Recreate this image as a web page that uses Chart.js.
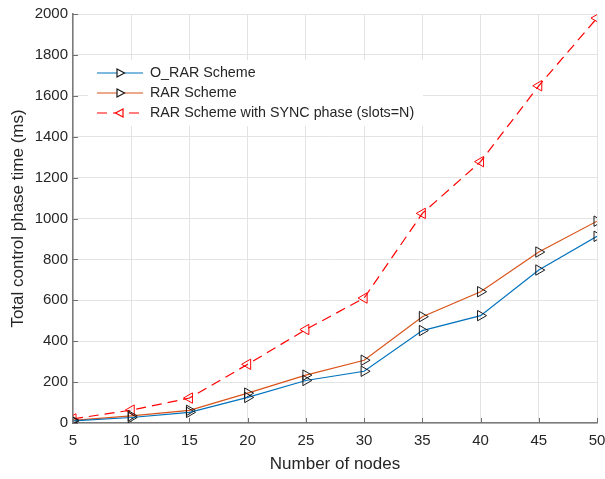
<!DOCTYPE html>
<html>
<head>
  <meta charset="UTF-8">
  <title>Total control phase time</title>
  <script src="https://cdn.jsdelivr.net/npm/chart.js"></script>
  <style>
    body { margin: 0; background: #fff; }
    canvas { display: block; }
  </style>
</head>
<body>
  <canvas id="chart" width="605" height="479"></canvas>
  <script>
    // values
    const nodes = [5, 10, 15, 20, 25, 30, 35, 40, 45, 50];
    const oRar = [10, 27, 52, 125, 208, 253, 452, 525, 748, 913];
    const rar = [13, 35, 62, 146, 234, 307, 520, 642, 836, 987];
    const rarSync = [20, 63, 122, 287, 457, 611, 1025, 1278, 1649, 1980];
    const labels = ['O_RAR Scheme', 'RAR Scheme', 'RAR Scheme with SYNC phase (slots=N)'];

    const FONT = '"Liberation Sans", Arial, sans-serif';
    const toXY = ys => nodes.map((x, i) => ({ x: x, y: ys[i] }));

    // matlab style ticks pointing into the plot
    const innerTicks = {
      id: 'innerTicks',
      afterDatasetsDraw(chart) {
        const ctx = chart.ctx;
        const a = chart.chartArea;
        ctx.save();
        ctx.strokeStyle = '#6e6e6e';
        ctx.lineWidth = 1;
        chart.scales.x.ticks.forEach(t => {
          const px = Math.round(chart.scales.x.getPixelForValue(t.value)) + 0.5;
          ctx.beginPath();
          ctx.moveTo(px, a.bottom);
          ctx.lineTo(px, a.bottom - 5);
          ctx.stroke();
        });
        chart.scales.y.ticks.forEach(t => {
          const py = Math.round(chart.scales.y.getPixelForValue(t.value)) + 0.5;
          ctx.beginPath();
          ctx.moveTo(a.left, py);
          ctx.lineTo(a.left + 5, py);
          ctx.stroke();
        });
        ctx.restore();
      }
    };

    // legend drawn inside the plot, like the matlab one
    const innerLegend = {
      id: 'innerLegend',
      afterDraw(chart) {
        const ctx = chart.ctx;
        const x0 = 88, y0 = 60;
        ctx.save();
        ctx.fillStyle = '#fff';
        ctx.fillRect(x0, y0, 335, 66);
        chart.data.datasets.forEach((ds, i) => {
          const y = y0 + 13 + i * 20;
          ctx.strokeStyle = ds.borderColor;
          ctx.lineWidth = 1.2;
          ctx.setLineDash(ds.borderDash || []);
          ctx.beginPath();
          ctx.moveTo(97, y);
          ctx.lineTo(143, y);
          ctx.stroke();
          ctx.setLineDash([]);
          ctx.save();
          ctx.translate(120, y);
          ctx.rotate(ds.pointRotation * Math.PI / 180);
          ctx.strokeStyle = ds.pointBorderColor;
          ctx.fillStyle = '#fff';
          ctx.beginPath();
          ctx.moveTo(0, -4.5);
          ctx.lineTo(4, 3);
          ctx.lineTo(-4, 3);
          ctx.closePath();
          ctx.fill();
          ctx.stroke();
          ctx.restore();
          ctx.fillStyle = '#262626';
          ctx.font = '14.3px ' + FONT;
          ctx.textBaseline = 'middle';
          ctx.fillText(ds.label, 150, y);
        });
        ctx.restore();
      }
    };

    function series(label, ys, color, rot, edge, dash) {
      return {
        label: label,
        data: toXY(ys),
        borderColor: color,
        borderWidth: 1.2,
        borderDash: dash,
        pointStyle: 'triangle',
        pointRotation: rot,
        pointRadius: 6,
        pointBorderColor: edge,
        pointBackgroundColor: 'rgba(0,0,0,0)',
        pointBorderWidth: 1,
        fill: false
      };
    }

    new Chart(document.getElementById('chart'), {
      type: 'line',
      data: {
        datasets: [
          series(labels[0], oRar, '#0072BD', 90, '#1a1a1a', []),
          series(labels[1], rar, '#D95319', 90, '#1a1a1a', []),
          series(labels[2], rarSync, '#FF0000', -90, '#FF0000', [10, 6])
        ]
      },
      options: {
        responsive: false,
        animation: false,
        layout: { padding: { top: 13, right: 8, left: 0, bottom: 0 } },
        plugins: {
          legend: { display: false },
          tooltip: { enabled: false }
        },
        scales: {
          x: {
            type: 'linear',
            min: 5,
            max: 50,
            ticks: {
              stepSize: 5,
              color: '#262626',
              font: { family: FONT, size: 15 },
              padding: 9,
              callback: v => String(v)
            },
            grid: { color: '#e3e3e3', drawTicks: false },
            border: { color: '#7a7a7a', width: 1.5 },
            title: {
              display: true,
              text: 'Number of nodes',
              color: '#262626',
              font: { family: FONT, size: 17 },
              padding: { top: 4 }
            },
            afterFit(scale) {
              scale.height = 56;
              scale.paddingRight = 0;
            }
          },
          y: {
            min: 0,
            max: 2000,
            ticks: {
              stepSize: 200,
              color: '#262626',
              font: { family: FONT, size: 15 },
              padding: 5,
              callback: v => String(v)
            },
            grid: { color: '#e3e3e3', drawTicks: false },
            border: { color: '#7a7a7a', width: 1.5 },
            title: {
              display: true,
              text: 'Total control phase time (ms)',
              color: '#262626',
              font: { family: FONT, size: 17 },
              padding: { top: 8, bottom: 0 }
            },
            afterFit(scale) { scale.width = 73; }
          }
        }
      },
      plugins: [innerTicks, innerLegend]
    });
  </script>
</body>
</html>
